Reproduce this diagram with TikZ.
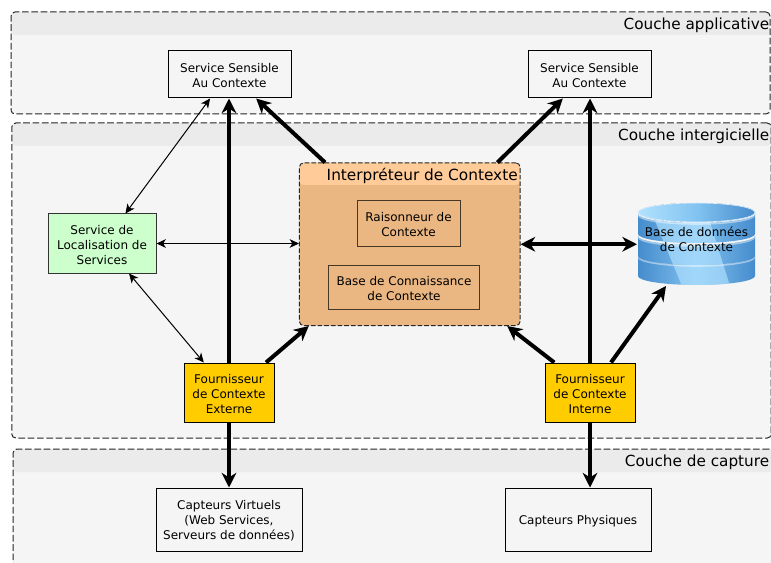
\documentclass[tikz,border=0pt]{standalone}
\usepackage{fontspec}
\setmainfont{DejaVu Sans}
\usetikzlibrary{arrows.meta}

\definecolor{layerback}{RGB}{245,245,245}
\definecolor{layerhead}{RGB}{235,235,235}
\definecolor{interpback}{RGB}{234,182,130}
\definecolor{interphead}{RGB}{255,204,153}
\definecolor{locback}{RGB}{204,255,204}
\definecolor{fourback}{RGB}{255,204,0}
\definecolor{dbdark}{RGB}{70,140,205}
\definecolor{dblight}{RGB}{178,226,255}
\definecolor{dbmid}{RGB}{130,195,240}

% taller first line, pushes the text of a box a little down
\newcommand{\lift}{\rule{0pt}{9pt}}

\tikzset{
  boxfont/.style={font=\fontsize{9}{11.25}\selectfont, align=center},
  layer/.style={draw=black!85, dash pattern=on 5pt off 2pt, line width=0.75pt, rounded corners=3pt, fill=layerback, inner sep=0pt},
  layertitle/.style={anchor=east, inner sep=0pt, font=\fontsize{11.45}{13}\selectfont},
  plainbox/.style={boxfont, draw=black, line width=0.75pt, fill=layerback, inner sep=0pt},
  innerbox/.style={boxfont, draw=black!70!interpback, line width=0.75pt, inner sep=0pt},
  thickarrow/.style={line width=3pt, -{Stealth[length=11pt, width=11pt, inset=3.5pt]}},
  thickboth/.style={line width=3pt, {Stealth[length=11pt, width=11pt, inset=3.5pt]}-{Stealth[length=11pt, width=11pt, inset=3.5pt]}},
  thinboth/.style={line width=0.75pt, {Stealth[length=7pt, width=6.5pt, inset=2pt]}-{Stealth[length=7pt, width=6.5pt, inset=2pt]}}
}

% one disc of the database, #1 = y of its upper edge
\newcommand{\dbdisc}[1]{
  \path[left color=dbdark, right color=dbdark, middle color=dbmid, path picture={\fill[dblight, opacity=0.65] (653,216) -- (708,216) -- (730,286) -- (682,286) -- cycle;}]
    (638,#1) -- (638,#1+20) .. controls (638,#1+25) and (664.2,#1+29) .. (696.5,#1+29)
    .. controls (728.8,#1+29) and (755,#1+25) .. (755,#1+20) -- (755,#1)
    .. controls (755,#1+5) and (728.8,#1+9) .. (696.5,#1+9)
    .. controls (664.2,#1+9) and (638,#1+5) .. (638,#1) -- cycle;
  \draw[white, opacity=0.45, line width=1.2pt]
    (638.5,#1+1) .. controls (638.5,#1+6) and (664.2,#1+10) .. (696.5,#1+10)
    .. controls (728.8,#1+10) and (754.5,#1+6) .. (754.5,#1+1);
}

\begin{document}
\begin{tikzpicture}[x=0.75pt,y=0.75pt,yscale=-1,xscale=1]
    \useasboundingbox (0,0) rectangle (771,563);

    % Layers
    \node (appli) [layer, minimum width=569.25pt, minimum height=76.5pt, path picture={\fill[layerhead] (path picture bounding box.north west) rectangle ([yshift=-17.25pt]path picture bounding box.north east);}] at (390.5,63) {};
    \node (inter) [layer, minimum width=569.6pt, minimum height=236.25pt, path picture={\fill[layerhead] (path picture bounding box.north west) rectangle ([yshift=-17.25pt]path picture bounding box.north east);}] at (391.5,280.5) {};
    \node (capture) [layer, minimum width=570pt, minimum height=105pt, path picture={\fill[layerhead] (path picture bounding box.north west) rectangle ([yshift=-17.25pt]path picture bounding box.north east);}] at (393,519) {};
    \node (applititle) [layertitle] at (769.5,25) {Couche applicative};
    \node (intertitle) [layertitle] at (769.5,136.5) {Couche intergicielle};
    \node (capturetitle) [layertitle] at (769.5,462.5) {Couche de capture};

    % Interpreter
    \node (interp) [draw=black!85, dash pattern=on 3.5pt off 1.5pt, line width=0.75pt, rounded corners=3pt, fill=interpback, inner sep=0pt, minimum width=165.4pt, minimum height=121.9pt, path picture={\fill[interphead] (path picture bounding box.north west) rectangle ([yshift=-16.5pt]path picture bounding box.north east);}] at (409.75,244.25) {};
    \node (interptitle) [anchor=east, inner sep=0pt, font=\fontsize{11.5}{13}\selectfont] at (518,175.5) {Interpréteur de Contexte};
    \node (reason) [innerbox, minimum width=77.25pt, minimum height=33.75pt] at (408.5,223.5) {\lift Raisonneur de\\Contexte};
    \node (know) [innerbox, minimum width=113.25pt, minimum height=33pt] at (404,287) {\lift Base de Connaissance\\de Contexte};

    % Database
    \dbdisc{256}
    \dbdisc{236}
    \dbdisc{214}
    \fill[left color=dblight, right color=dbdark, middle color=dbmid, draw=white!60!dblight, line width=0.5pt] (696.5,212.5) ellipse [x radius=58.5, y radius=9.5];
    \node (db) [boxfont, inner sep=0pt, minimum width=87.75pt, minimum height=61.5pt] at (696.5,238.5) {\lift Base de données\\de Contexte};
    \coordinate (dbwest) at (637,244.25);
    \coordinate (dbbottom) at (666,286);

    % Boxes
    \node (senseleft) [plainbox, minimum width=92.25pt, minimum height=35.25pt] at (229.5,74.5) {\lift Service Sensible\\Au Contexte};
    \node (senseright) [plainbox, minimum width=92.25pt, minimum height=35.25pt] at (589.5,74.5) {\lift Service Sensible\\Au Contexte};
    \node (locate) [plainbox, draw=black!80, fill=locback, minimum width=81pt, minimum height=44.25pt] at (102,243.5) {\lift Service de\\Localisation de\\Services};
    \node (fourext) [plainbox, fill=fourback, minimum width=67.5pt, minimum height=44.25pt] at (229,392.5) {\lift Fournisseur\\de Contexte\\Externe};
    \node (fourint) [plainbox, fill=fourback, minimum width=67.5pt, minimum height=44.25pt] at (590,392.5) {\lift Fournisseur\\de Contexte\\Interne};
    \node (captvirt) [plainbox, minimum width=109.5pt, minimum height=47.25pt] at (229,519.5) {\lift Capteurs Virtuels\\(Web Services,\\Serveurs de données)};
    \node (captphys) [plainbox, minimum width=109.5pt, minimum height=47.25pt] at (578,519.5) {\lift Capteurs Physiques};

    % Connectors
    \draw [thinboth] (locate.52) -- (senseleft.231.8);
    \draw [thinboth] (locate.east) -- (locate.east -| interp.west);
    \draw [thinboth] (locate.312.5) -- (fourext.130.3);
    \draw [thickarrow] (fourext.north) -- (fourext.north |- senseleft.south);
    \draw [thickarrow] (interp.136.9) -- (senseleft.318.4);
    \draw [thickarrow] (interp.43.6) -- (senseright.222.7);
    \draw [thickarrow] (fourint.north) -- (fourint.north |- senseright.south);
    \draw [thickarrow] (fourext.39.3) -- (interp.219.3);
    \draw [thickarrow] (fourint.140.7) -- (interp.320.8);
    \draw [thickarrow] (fourint.55.9) -- (dbbottom);
    \draw [thickboth] (interp.east) -- (dbwest);
    \draw [thickarrow] (fourext.south) -- (captvirt.north);
    \draw [thickarrow] (fourint.south) -- (fourint.south |- captphys.north);
\end{tikzpicture}
\end{document}
